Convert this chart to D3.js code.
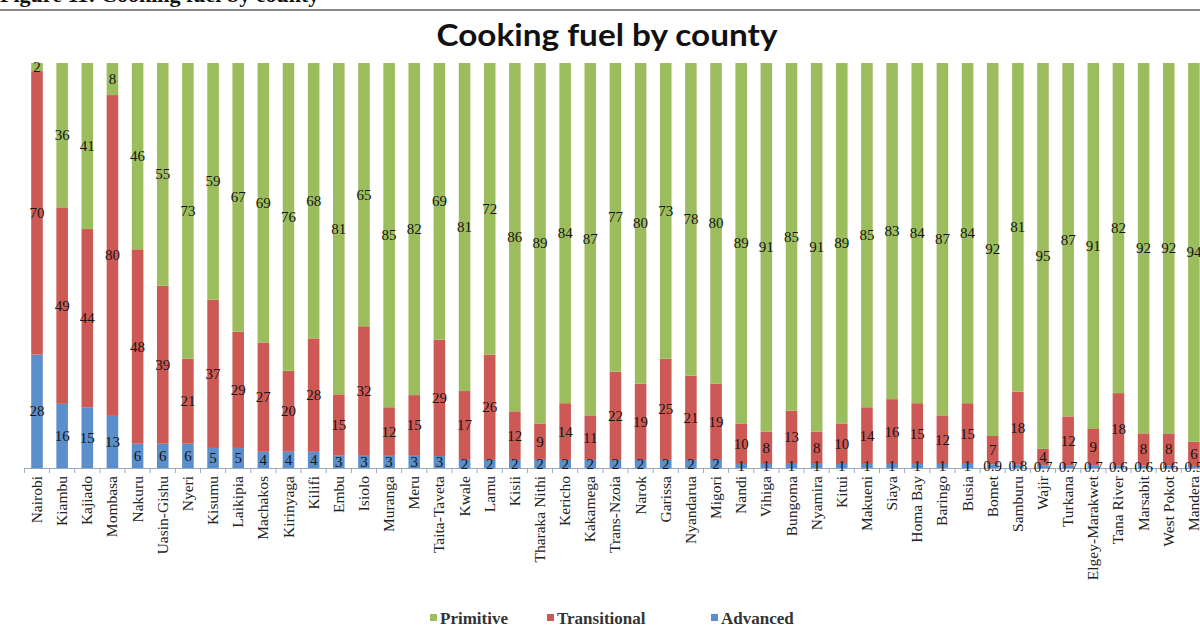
<!DOCTYPE html>
<html><head><meta charset="utf-8">
<script src="https://cdn.jsdelivr.net/npm/d3@7"></script>
<style>body{margin:0;background:#fff}svg{display:block}</style>
</head><body>
<svg id="chart" width="1200" height="636"></svg>
<script>
const counties = ["Nairobi","Kiambu","Kajiado","Mombasa","Nakuru","Uasin-Gishu","Nyeri","Kisumu","Laikipia","Machakos","Kirinyaga","Kilifi","Embu","Isiolo","Muranga","Meru","Taita-Taveta","Kwale","Lamu","Kisii","Tharaka Nithi","Kericho","Kakamega","Trans-Nzoia","Narok","Garissa","Nyandarua","Migori","Nandi","Vihiga","Bungoma","Nyamira","Kitui","Makueni","Siaya","Homa Bay","Baringo","Busia","Bomet","Samburu","Wajir","Turkana","Elgey-Marakwet","Tana River","Marsabit","West Pokot","Mandera"];
const advanced = [28,16,15,13,6,6,6,5,5,4,4,4,3,3,3,3,3,2,2,2,2,2,2,2,2,2,2,2,1,1,1,1,1,1,1,1,1,1,0.9,0.8,0.7,0.7,0.7,0.6,0.6,0.6,0.5];
const transitional = [70,49,44,80,48,39,21,37,29,27,20,28,15,32,12,15,29,17,26,12,9,14,11,22,19,25,21,19,10,8,13,8,10,14,16,15,12,15,7,18,4,12,9,18,8,8,6];
const primitive = [2,36,41,8,46,55,73,59,67,69,76,68,81,65,85,82,69,81,72,86,89,84,87,77,80,73,78,80,89,91,85,91,89,85,83,84,87,84,92,81,95,87,91,82,92,92,94];
const seriesNames = ["Advanced","Transitional","Primitive"];
const legendOrder = ["Primitive","Transitional","Advanced"];
const colors = {Advanced:"#5a8fcc", Transitional:"#cc5954", Primitive:"#9cbd5e"};

const rows = counties.map((c,i)=>({county:c, Advanced:advanced[i], Transitional:transitional[i], Primitive:primitive[i]}));
const svg = d3.select("#chart");

// header remnants
svg.append("text").attr("x",0).attr("y",2).attr("font-family","Liberation Serif, serif")
  .attr("font-weight","bold").attr("font-size",22).attr("fill","#111").text("Figure 11: Cooking fuel by county");
svg.append("rect").attr("x",0).attr("y",9).attr("width",1200).attr("height",2).attr("fill","#8a8a8a");

svg.append("text").attr("x",607).attr("y",46).attr("text-anchor","middle")
  .attr("font-family","Lato, 'Open Sans', sans-serif").attr("font-weight","bold").attr("font-size",31)
  .attr("textLength",341).attr("lengthAdjust","spacingAndGlyphs")
  .attr("fill","#111").text("Cooking fuel by county");

const step = 25.15, first = 37;
const x = d3.scaleBand().domain(counties)
  .range([first - step/2, first - step/2 + step*counties.length])
  .paddingInner(0.54).paddingOuter(0.27);
const y = d3.scaleLinear().domain([0,1]).range([468,63]);

const stack = d3.stack().keys(seriesNames).offset(d3.stackOffsetExpand);
const layers = stack(rows);

const g = svg.append("g");
layers.forEach(layer=>{
  g.append("g").attr("fill",colors[layer.key]).selectAll("rect").data(layer).join("rect")
    .attr("x",d=>x(d.data.county)).attr("width",x.bandwidth())
    .attr("y",d=>y(d[1])).attr("height",d=>y(d[0])-y(d[1]));
});

// axis line and boundary ticks
const axisG = svg.append("g");
axisG.append("line").attr("x1",x.range()[0]).attr("x2",1200).attr("y1",468.5).attr("y2",468.5)
  .attr("stroke","#9aa8bb").attr("stroke-width",1.2);
const gap = x.step()*x.paddingInner()/2;
axisG.selectAll("line.tk").data(counties).join("line").attr("class","tk")
  .attr("x1",d=>x(d)-gap).attr("x2",d=>x(d)-gap).attr("y1",468).attr("y2",473)
  .attr("stroke","#9aa8bb").attr("stroke-width",1);

// category labels
svg.append("g").selectAll("text").data(counties).join("text")
  .attr("transform",d=>`translate(${x(d)+x.bandwidth()/2+5},476) rotate(-90)`)
  .attr("text-anchor","end").attr("font-family","Liberation Serif, serif").attr("font-size",15.5)
  .attr("fill","#222").text(d=>d);

// data labels
const fmt = v => String(v);
layers.forEach(layer=>{
  svg.append("g").selectAll("text").data(layer).join("text")
    .attr("x",d=>x(d.data.county)+x.bandwidth()/2)
    .attr("y",d=>y((d[0]+d[1])/2)+5)
    .attr("text-anchor","middle").attr("font-family","Liberation Serif, serif").attr("font-size",15)
    .attr("fill","#151515").text(d=>fmt(d.data[layer.key]));
});

// legend
const legX = {Primitive:430, Transitional:547, Advanced:711};
const leg = svg.append("g");
legendOrder.forEach(k=>{
  leg.append("rect").attr("x",legX[k]).attr("y",614).attr("width",7).attr("height",7).attr("fill",colors[k]);
  leg.append("text").attr("x",legX[k]+10).attr("y",624).attr("font-family","Liberation Serif, serif")
    .attr("font-weight","bold").attr("font-size",17).attr("fill","#333").text(k);
});
</script>
</body></html>
